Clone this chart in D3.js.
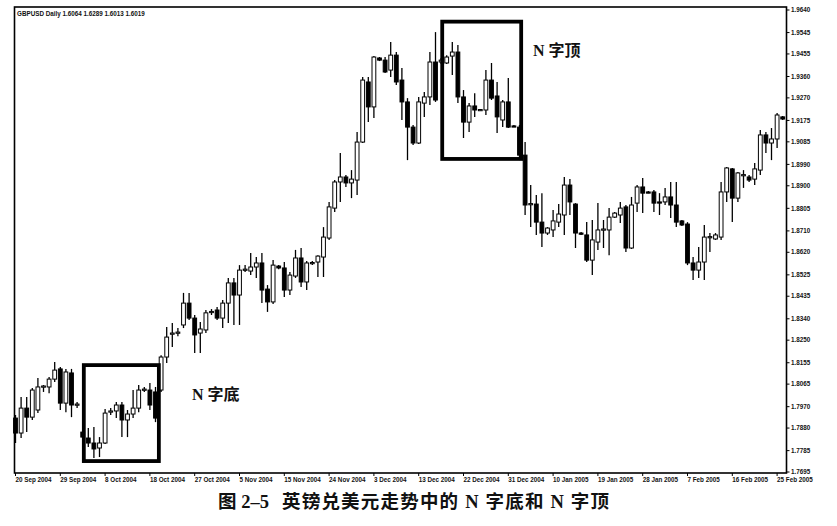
<!DOCTYPE html>
<html><head><meta charset="utf-8">
<script src="https://cdn.jsdelivr.net/npm/d3@7"></script>
<style>body{margin:0;background:#fff;}svg{display:block;}</style>
</head><body>
<svg id="c" width="837" height="526"></svg>
<script>
// ---------- DATA ----------
const headerText = "GBPUSD Daily  1.6064 1.6289 1.6013 1.6019";
const dateLabels = ["20 Sep 2004","29 Sep 2004","8 Oct 2004","18 Oct 2004","27 Oct 2004","5 Nov 2004","15 Nov 2004","24 Nov 2004","3 Dec 2004","13 Dec 2004","22 Dec 2004","31 Dec 2004","10 Jan 2005","19 Jan 2005","28 Jan 2005","7 Feb 2005","16 Feb 2005","25 Feb 2005"];
const barsPerLabel = 8;
const priceTicks = [1.9640,1.9545,1.9455,1.9360,1.9270,1.9175,1.9085,1.8990,1.8900,1.8805,1.8710,1.8620,1.8525,1.8435,1.8340,1.8250,1.8155,1.8065,1.7970,1.7880,1.7785,1.7695];

const opens = [
1.7922,1.7859,1.7964,1.7926,1.7956,1.8053,1.8053,1.8086,1.8129,1.7985,
1.8112,1.7977,1.7863,1.7838,1.7817,1.7796,1.7817,1.7947,1.7952,1.7977,
1.7914,1.7939,1.7964,1.8040,1.8040,1.8032,1.8040,1.8179,1.8276,1.8280,
1.8314,1.8406,1.8343,1.8280,1.8293,1.8369,1.8377,1.8343,1.8406,1.8491,
1.8440,1.8545,1.8541,1.8558,1.8575,1.8465,1.8411,1.8562,1.8554,1.8461,
1.8520,1.8596,1.8495,1.8575,1.8579,1.8600,1.8680,1.8806,1.8916,1.8937,
1.8912,1.8924,1.9084,1.9337,1.9232,1.9438,1.9429,1.9387,1.9450,1.9345,
1.9253,1.9147,1.9080,1.9248,1.9274,1.9421,1.9421,1.9417,1.9446,1.9463,
1.9274,1.9168,1.9236,1.9219,1.9219,1.9345,1.9278,1.9177,1.9253,1.9152,
1.9147,1.9029,1.8823,1.8823,1.8747,1.8701,1.8714,1.8747,1.8777,1.8903,
1.8823,1.8701,1.8693,1.8587,1.8663,1.8714,1.8714,1.8768,1.8777,1.8811,
1.8638,1.8827,1.8895,1.8874,1.8874,1.8832,1.8832,1.8853,1.8819,1.8752,
1.8739,1.8575,1.8545,1.8579,1.8684,1.8676,1.8684,1.8874,1.8971,1.8848,
1.8945,1.8937,1.8928,1.8966,1.9114,1.9080,1.9097,1.9190];
const highs = [
1.7935,1.8011,1.8011,1.8049,1.8091,1.8061,1.8095,1.8158,1.8137,1.8129,
1.8129,1.7990,1.7880,1.7880,1.7884,1.7842,1.7960,1.7964,1.7990,1.7990,
1.7956,1.8040,1.8061,1.8053,1.8070,1.8053,1.8187,1.8305,1.8322,1.8301,
1.8449,1.8449,1.8356,1.8326,1.8377,1.8381,1.8390,1.8419,1.8512,1.8512,
1.8566,1.8566,1.8617,1.8600,1.8617,1.8482,1.8587,1.8566,1.8579,1.8537,
1.8630,1.8638,1.8583,1.8583,1.8608,1.8726,1.8832,1.8924,1.9038,1.8945,
1.8966,1.9126,1.9358,1.9358,1.9446,1.9442,1.9442,1.9505,1.9463,1.9396,
1.9269,1.9156,1.9274,1.9295,1.9463,1.9547,1.9438,1.9450,1.9505,1.9493,
1.9303,1.9248,1.9290,1.9223,1.9387,1.9417,1.9337,1.9261,1.9354,1.9156,
1.9156,1.9084,1.8903,1.8861,1.8869,1.8726,1.8798,1.8823,1.8937,1.8928,
1.8827,1.8705,1.8747,1.8756,1.8827,1.8756,1.8806,1.8790,1.8832,1.8819,
1.8853,1.8903,1.8933,1.8878,1.8882,1.8869,1.8891,1.8916,1.8916,1.8756,
1.8747,1.8600,1.8642,1.8735,1.8701,1.8701,1.8916,1.8979,1.8975,1.8958,
1.8966,1.8945,1.8996,1.9135,1.9126,1.9143,1.9206,1.9194];
const lows = [
1.7817,1.7838,1.7863,1.7914,1.7943,1.8032,1.8027,1.8074,1.7956,1.7947,
1.7926,1.7964,1.7830,1.7800,1.7754,1.7758,1.7813,1.7935,1.7922,1.7842,
1.7842,1.7922,1.7947,1.8032,1.7956,1.7905,1.8032,1.8154,1.8221,1.8267,
1.8301,1.8335,1.8196,1.8196,1.8280,1.8356,1.8335,1.8301,1.8322,1.8314,
1.8314,1.8537,1.8524,1.8512,1.8406,1.8369,1.8402,1.8549,1.8432,1.8440,
1.8512,1.8474,1.8461,1.8566,1.8516,1.8516,1.8672,1.8790,1.8832,1.8895,
1.8848,1.8861,1.9080,1.9168,1.9185,1.9425,1.9375,1.9358,1.9324,1.9177,
1.9008,1.9072,1.9076,1.9190,1.9240,1.9253,1.9413,1.9413,1.9366,1.9248,
1.9101,1.9126,1.9190,1.9215,1.9198,1.9261,1.9122,1.9147,1.9143,1.9147,
1.9008,1.8777,1.8726,1.8693,1.8642,1.8693,1.8684,1.8726,1.8693,1.8777,
1.8638,1.8693,1.8579,1.8524,1.8630,1.8638,1.8608,1.8764,1.8743,1.8621,
1.8634,1.8790,1.8785,1.8869,1.8790,1.8777,1.8819,1.8764,1.8726,1.8731,
1.8566,1.8503,1.8512,1.8503,1.8621,1.8672,1.8672,1.8832,1.8747,1.8832,
1.8891,1.8916,1.8903,1.8945,1.9038,1.9008,1.9059,1.9177];
const closes = [
1.7859,1.7964,1.7926,1.8040,1.8053,1.8057,1.8086,1.8124,1.7985,1.8116,
1.7977,1.7981,1.7842,1.7817,1.7792,1.7817,1.7943,1.7952,1.7977,1.7914,
1.7939,1.7964,1.8040,1.8044,1.7977,1.7922,1.8179,1.8263,1.8280,1.8284,
1.8406,1.8343,1.8272,1.8297,1.8365,1.8371,1.8343,1.8406,1.8491,1.8440,
1.8545,1.8549,1.8558,1.8575,1.8461,1.8411,1.8566,1.8554,1.8461,1.8524,
1.8596,1.8495,1.8575,1.8577,1.8604,1.8684,1.8811,1.8916,1.8937,1.8912,
1.8928,1.9084,1.9345,1.9232,1.9442,1.9429,1.9379,1.9450,1.9337,1.9253,
1.9147,1.9080,1.9253,1.9274,1.9421,1.9261,1.9429,1.9442,1.9463,1.9274,
1.9168,1.9236,1.9219,1.9221,1.9345,1.9269,1.9190,1.9253,1.9147,1.9150,
1.9029,1.8819,1.8825,1.8747,1.8701,1.8722,1.8752,1.8781,1.8903,1.8832,
1.8701,1.8699,1.8587,1.8672,1.8714,1.8718,1.8768,1.8785,1.8806,1.8638,
1.8819,1.8895,1.8869,1.8872,1.8827,1.8830,1.8853,1.8819,1.8747,1.8735,
1.8575,1.8545,1.8579,1.8684,1.8686,1.8693,1.8874,1.8975,1.8848,1.8954,
1.8947,1.8924,1.8971,1.9114,1.9080,1.9097,1.9198,1.9181];

// pattern boxes (bar index span, price span) and their labels
const boxFrom = [12.2, 76.2];
const boxTo   = [25.6, 90.3];
const boxHigh = [1.8145, 1.9591];
const boxLow  = [1.7741, 1.9013];
const noteText = ["N 字底", "N 字顶"];
const noteBar  = [31.5, 92.4];
const notePrice= [1.7998, 1.9446];
const caption1 = "图 2–5";
const caption2 = "英镑兑美元走势中的 N 字底和 N 字顶";

// ---------- LAYOUT ----------
const svg = d3.select("#c");
const frame = {l:14.5, t:7, r:786.5, b:473};
const n = opens.length;
const x = d3.scaleLinear().domain([0, n-1]).range([15.5, 782.7]);
const y = d3.scaleLinear().domain([1.7695, 1.9640]).range([472, 10]);
const bodyW = 3.8;

const bars = d3.range(n).map(i => ({i, o:opens[i], h:highs[i], l:lows[i], c:closes[i]}));

// header
svg.append("text").attr("x",17).attr("y",16)
  .attr("font-family","Liberation Sans, Arial, sans-serif").attr("font-size",6.3).attr("font-weight","bold")
  .attr("fill","#111").text(headerText);

// candles
const g = svg.append("g");
g.selectAll("line.wick").data(bars).join("line").attr("class","wick")
  .attr("x1",d=>x(d.i)).attr("x2",d=>x(d.i))
  .attr("y1",d=>y(Math.max(d.h,d.o,d.c))).attr("y2",d=>y(Math.min(d.l,d.o,d.c)))
  .attr("stroke","#000").attr("stroke-width",1.3);
g.selectAll("rect.body").data(bars).join("rect").attr("class","body")
  .attr("x",d=>x(d.i)-bodyW/2).attr("width",bodyW)
  .attr("y",d=>y(Math.max(d.o,d.c)))
  .attr("height",d=>Math.max(1.2, Math.abs(y(d.o)-y(d.c))))
  .attr("fill",d=>d.c>=d.o?"#fff":"#000")
  .attr("stroke","#000").attr("stroke-width",1);

// boxes
const boxes = d3.range(boxFrom.length).map(k=>({a:boxFrom[k],b:boxTo[k],hi:boxHigh[k],lo:boxLow[k]}));
svg.selectAll("rect.box").data(boxes).join("rect").attr("class","box")
  .attr("x",d=>x(d.a)).attr("width",d=>x(d.b)-x(d.a))
  .attr("y",d=>y(d.hi)).attr("height",d=>y(d.lo)-y(d.hi))
  .attr("fill","none").attr("stroke","#000").attr("stroke-width",3.8);

// notes
svg.selectAll("text.note").data(noteText).join("text").attr("class","note")
  .attr("x",(d,k)=>x(noteBar[k])).attr("y",(d,k)=>y(notePrice[k]))
  .attr("font-family","Liberation Serif, 'Noto Sans CJK SC', serif").attr("font-size",16).attr("font-weight","bold")
  .attr("fill","#111").text(d=>d);

// frame
svg.append("rect").attr("x",frame.l).attr("y",frame.t)
  .attr("width",frame.r-frame.l).attr("height",frame.b-frame.t)
  .attr("fill","none").attr("stroke","#000").attr("stroke-width",1.6);

// right price axis
const ya = svg.append("g").attr("font-family","Liberation Sans, Arial, sans-serif").attr("font-size",6.3).attr("font-weight","bold");
ya.selectAll("line").data(priceTicks).join("line")
  .attr("x1",frame.r).attr("x2",frame.r+3).attr("y1",d=>y(d)).attr("y2",d=>y(d))
  .attr("stroke","#000").attr("stroke-width",1);
ya.selectAll("text").data(priceTicks).join("text")
  .attr("x",frame.r+4.5).attr("y",d=>y(d)+2.2).attr("fill","#111")
  .text(d=>d.toFixed(4));

// bottom date axis
const xa = svg.append("g").attr("font-family","Liberation Sans, Arial, sans-serif").attr("font-size",6.3).attr("font-weight","bold");
xa.selectAll("line").data(dateLabels).join("line")
  .attr("x1",(d,k)=>x(k*barsPerLabel)).attr("x2",(d,k)=>x(k*barsPerLabel))
  .attr("y1",frame.b).attr("y2",frame.b+3).attr("stroke","#000").attr("stroke-width",1);
xa.selectAll("text").data(dateLabels).join("text")
  .attr("x",(d,k)=>x(k*barsPerLabel)).attr("y",frame.b+9).attr("fill","#111")
  .text(d=>d);

// caption
const cap = svg.append("g").attr("font-family","Liberation Serif, 'Noto Sans CJK SC', serif").attr("font-weight","bold").attr("font-size",18.5).attr("fill","#111");
cap.append("text").attr("x",218).attr("y",508).text(caption1);
cap.append("text").attr("x",282).attr("y",508).attr("letter-spacing",1.2).text(caption2);
</script>
</body></html>
